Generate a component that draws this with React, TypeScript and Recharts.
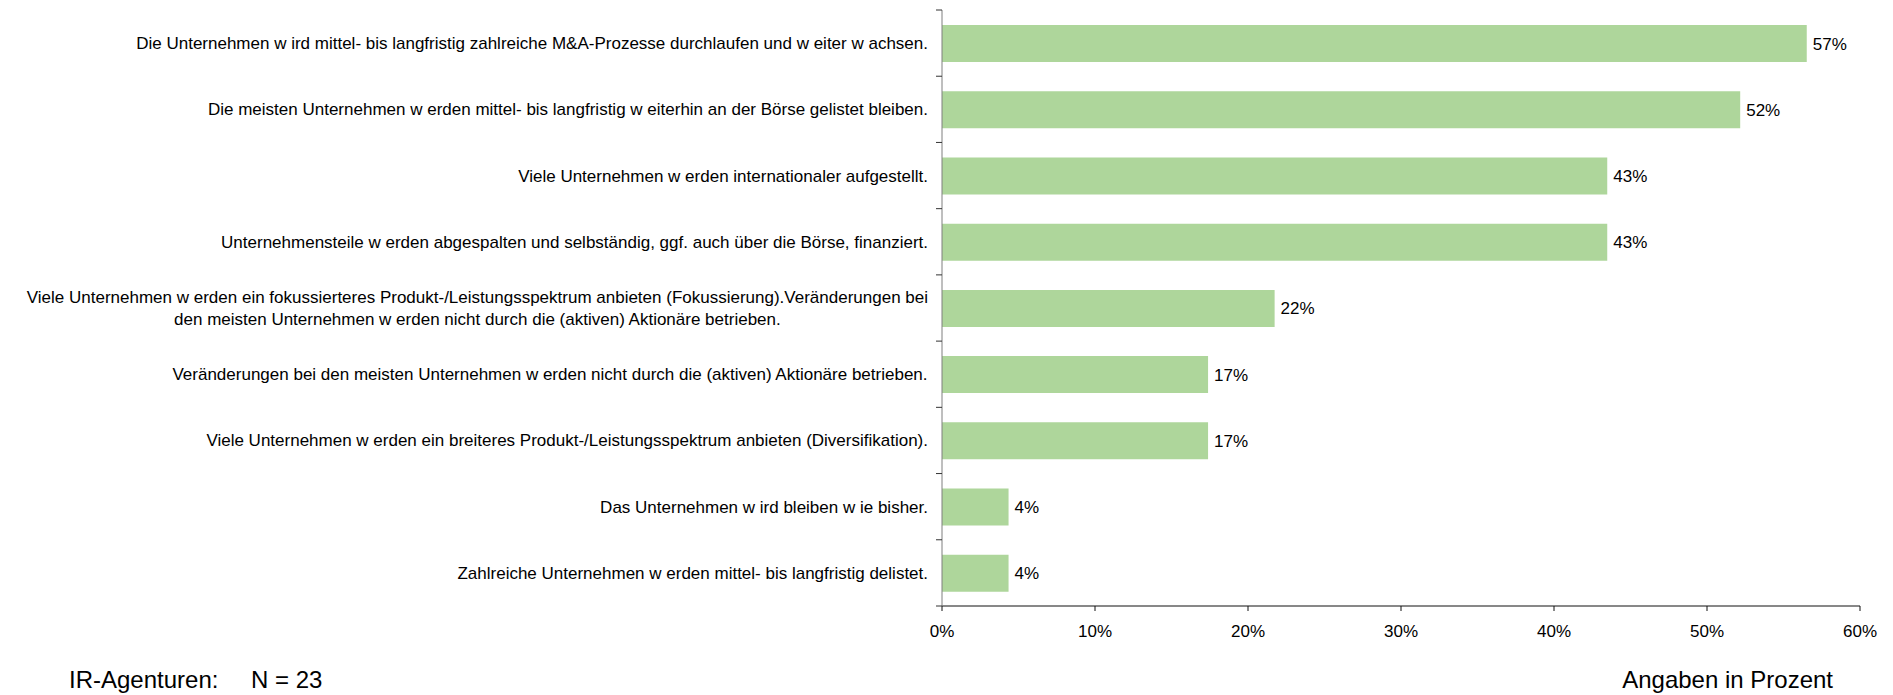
import React from 'react';
import { BarChart, Bar, XAxis, YAxis, LabelList } from 'recharts';

const statements = [
  'Die Unternehmen w ird mittel- bis langfristig zahlreiche M&A-Prozesse durchlaufen und w eiter w achsen.',
  'Die meisten Unternehmen w erden mittel- bis langfristig w eiterhin an der Börse gelistet bleiben.',
  'Viele Unternehmen w erden internationaler aufgestellt.',
  'Unternehmensteile w erden abgespalten und selbständig, ggf. auch über die Börse, finanziert.',
  'Viele Unternehmen w erden ein fokussierteres Produkt-/Leistungsspektrum anbieten (Fokussierung).Veränderungen bei\nden meisten Unternehmen w erden nicht durch die (aktiven) Aktionäre betrieben.',
  'Veränderungen bei den meisten Unternehmen w erden nicht durch die (aktiven) Aktionäre betrieben.',
  'Viele Unternehmen w erden ein breiteres Produkt-/Leistungsspektrum anbieten (Diversifikation).',
  'Das Unternehmen w ird bleiben w ie bisher.',
  'Zahlreiche Unternehmen w erden mittel- bis langfristig delistet.',
];

// share of IR agencies (N = 23), in percent
const shares = [56.52, 52.17, 43.48, 43.48, 21.74, 17.39, 17.39, 4.35, 4.35];

const xTicks = [0, 10, 20, 30, 40, 50, 60];

const footerLeft = 'IR-Agenturen:';
const footerN = 'N = 23';
const footerRight = 'Angaben in Prozent';

const data = statements.map((label, i) => ({ label, value: shares[i] }));

const W = 1893;
const H = 695;
const TOP = 10;
const BOTTOM = 606;
const LEFT = 942;
const RIGHT = 1860;
const X_AXIS_H = 30;
const FONT = "'Liberation Sans', Arial, sans-serif";
const band = (BOTTOM - TOP) / statements.length;

let ctx: CanvasRenderingContext2D | null = null;
function measure(text: string, size: number) {
  if (!ctx) ctx = document.createElement('canvas').getContext('2d');
  if (!ctx) return text.length * size * 0.5;
  ctx.font = `${size}px ${FONT}`;
  return ctx.measureText(text).width;
}

function CategoryTick(props: any) {
  const { y, payload, index } = props;
  const lines = String(payload.value).split('\n');
  const right = LEFT - 14;
  const w = Math.max(...lines.map((l) => measure(l, 17)));
  const cx = right - w / 2;
  const lh = 22;
  const y0 = y - ((lines.length - 1) * lh) / 2;
  return (
    <g>
      <line x1={LEFT - 6} x2={LEFT} y1={y - band / 2} y2={y - band / 2} stroke="#333" />
      {index === statements.length - 1 && (
        <line x1={LEFT - 6} x2={LEFT} y1={y + band / 2} y2={y + band / 2} stroke="#333" />
      )}
      <text x={cx} y={y0} textAnchor="middle" dominantBaseline="central" fontSize={17} fill="#000" fontFamily={FONT}>
        {lines.map((l, i) => (
          <tspan key={i} x={cx} dy={i === 0 ? 0 : lh}>
            {l}
          </tspan>
        ))}
      </text>
    </g>
  );
}

function PercentTick(props: any) {
  const { x, payload } = props;
  return (
    <text x={x} y={BOTTOM + 31} textAnchor="middle" fontSize={17} fill="#000" fontFamily={FONT}>
      {`${payload.value}%`}
    </text>
  );
}

export default function App() {
  return (
    <div style={{ position: 'absolute', left: 0, top: 0, width: W, height: H, background: '#fff', fontFamily: FONT }}>
      <BarChart
        width={W}
        height={H}
        data={data}
        layout="vertical"
        margin={{ top: TOP, right: W - RIGHT, bottom: H - BOTTOM - X_AXIS_H, left: 0 }}
        barSize={37}
      >
        <XAxis
          type="number"
          domain={[0, 60]}
          ticks={xTicks}
          height={X_AXIS_H}
          stroke="#111"
          tickSize={5}
          tick={<PercentTick />}
          interval={0}
        />
        <YAxis
          type="category"
          dataKey="label"
          width={LEFT}
          stroke="#7f7f7f"
          tickLine={false}
          tick={<CategoryTick />}
          interval={0}
        />
        <Bar dataKey="value" fill="#aed69b" isAnimationActive={false}>
          <LabelList
            dataKey="value"
            position="right"
            offset={6}
            formatter={(v: any) => `${Math.round(Number(v))}%`}
            style={{ fontSize: 17, fill: '#000', fontFamily: FONT }}
          />
        </Bar>
      </BarChart>
      <svg width={W} height={H} style={{ position: 'absolute', left: 0, top: 0, pointerEvents: 'none' }}>
        <text x={69} y={688} fontSize={24} fill="#000" fontFamily={FONT}>
          {footerLeft}
        </text>
        <text x={251} y={688} fontSize={24} fill="#000" fontFamily={FONT}>
          {footerN}
        </text>
        <text x={1833} y={688} textAnchor="end" fontSize={24} fill="#000" fontFamily={FONT}>
          {footerRight}
        </text>
      </svg>
    </div>
  );
}
